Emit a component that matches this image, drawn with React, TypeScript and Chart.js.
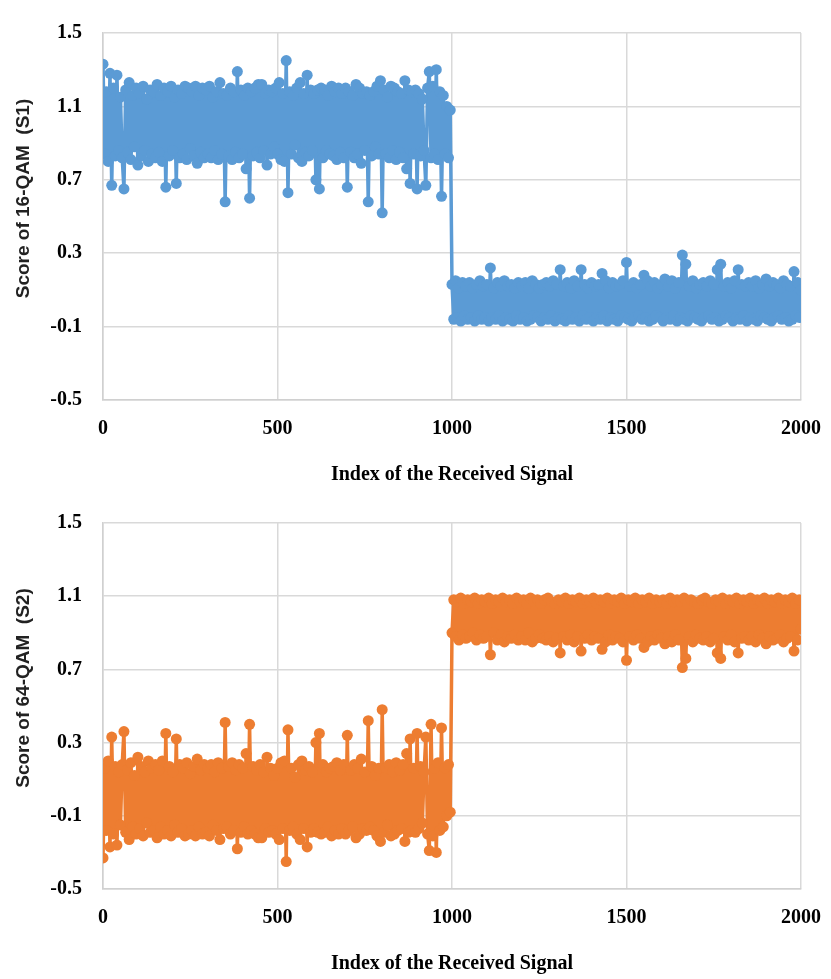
import React, { useEffect, useRef } from "react";
import { Chart, registerables } from "chart.js";

Chart.register(...registerables);

// Sample index of every plotted value (0 .. 2000, one value per 5 received signals)
const STEP = 5;
const signalIndex: number[] = Array.from({ length: 401 }, (_, i) => i * STEP);

const xTicks = [0, 500, 1000, 1500, 2000];
const yTicks = [-0.5, -0.1, 0.3, 0.7, 1.1, 1.5];

// Score of 16-QAM (S1), indices 0..995
const s1FirstHalf = [
  1.33, 0.84, 1.18, 0.8, 1.28, 0.67, 1.2, 0.83, 1.27, 0.86,
  1.15, 0.82, 0.65, 1.19, 0.85, 1.23, 0.81, 1.16, 0.88, 1.2,
  0.78, 1.17, 0.83, 1.21, 0.86, 1.14, 0.8, 1.19, 0.84, 1.18,
  0.82, 1.22, 0.85, 1.16, 0.8, 1.2, 0.66, 1.18, 0.83, 1.21,
  0.86, 1.15, 0.68, 1.19, 0.82, 1.17, 0.84, 1.21, 0.81, 1.2,
  0.87, 1.18, 0.83, 1.21, 0.79, 1.16, 0.85, 1.2, 0.82, 1.19,
  0.84, 1.21, 0.82, 1.15, 0.86, 1.18, 0.81, 1.23, 0.84, 1.17,
  0.58, 1.16, 0.83, 1.2, 0.81, 1.18, 0.85, 1.29, 0.82, 1.19,
  0.84, 1.16, 0.76, 1.2, 0.6, 1.18, 0.83, 1.2, 0.85, 1.22,
  0.82, 1.22, 0.86, 1.17, 0.78, 1.19, 0.84, 1.18, 0.88, 1.2,
  0.84, 1.23, 0.81, 1.17, 0.8, 1.35, 0.63, 1.18, 0.84, 1.16,
  0.89, 1.2, 0.82, 1.23, 0.8, 1.17, 0.85, 1.27, 0.83, 1.19,
  0.86, 1.17, 0.7, 1.19, 0.65, 1.2, 0.82, 1.19, 0.86, 1.16,
  0.84, 1.21, 0.83, 1.18, 0.81, 1.2, 0.85, 1.17, 0.82, 1.2,
  0.66, 1.18, 0.85, 1.16, 0.82, 1.22, 0.84, 1.2, 0.79, 1.17,
  0.86, 1.18, 0.58, 1.16, 0.83, 1.18, 0.88, 1.21, 0.84, 1.24,
  0.52, 1.19, 0.84, 1.15, 0.82, 1.21, 0.86, 1.2, 0.81, 1.18,
  0.85, 1.17, 0.82, 1.24, 0.76, 1.19, 0.68, 1.18, 0.84, 1.19,
  0.65, 1.17, 0.83, 1.14, 0.86, 0.67, 1.2, 1.29, 0.82, 1.21,
  0.84, 1.3, 0.81, 1.18, 0.61, 1.16, 0.84, 1.1, 0.82, 1.08,
];
// Score of 16-QAM (S1), indices 1000..2000
const s1SecondHalf = [
  0.13, -0.06, 0.15, -0.05, 0.11, -0.07, 0.14, -0.04, 0.12, -0.06,
  0.14, -0.05, 0.11, -0.07, 0.13, -0.04, 0.15, -0.06, 0.12, -0.05,
  0.13, -0.07, 0.22, -0.05, 0.11, -0.06, 0.14, -0.04, 0.12, -0.07,
  0.15, -0.05, 0.12, -0.06, 0.13, -0.07, 0.11, -0.04, 0.14, -0.06,
  0.12, -0.05, 0.14, -0.07, 0.11, -0.06, 0.15, -0.04, 0.13, -0.05,
  0.11, -0.07, 0.13, -0.05, 0.14, -0.06, 0.12, -0.04, 0.15, -0.07,
  0.13, -0.05, 0.21, -0.06, 0.12, -0.07, 0.14, -0.04, 0.11, -0.06,
  0.15, -0.05, 0.12, -0.07, 0.21, -0.04, 0.13, -0.06, 0.11, -0.05,
  0.14, -0.07, 0.12, -0.05, 0.13, -0.06, 0.19, -0.04, 0.15, -0.07,
  0.11, -0.05, 0.14, -0.06, 0.12, -0.07, 0.13, -0.04, 0.15, -0.05,
  0.25, -0.06, 0.12, -0.07, 0.14, -0.05, 0.11, -0.04, 0.13, -0.06,
  0.18, -0.05, 0.15, -0.07, 0.12, -0.06, 0.14, -0.04, 0.11, -0.05,
  0.13, -0.07, 0.16, -0.05, 0.12, -0.06, 0.15, -0.04, 0.11, -0.07,
  0.14, -0.05, 0.29, -0.06, 0.24, -0.07, 0.12, -0.04, 0.15, -0.05,
  0.11, -0.06, 0.13, -0.07, 0.14, -0.05, 0.12, -0.04, 0.15, -0.06,
  0.13, -0.05, 0.21, -0.07, 0.24, -0.06, 0.12, -0.04, 0.14, -0.05,
  0.11, -0.07, 0.15, -0.05, 0.21, -0.06, 0.13, -0.04, 0.12, -0.07,
  0.14, -0.05, 0.12, -0.06, 0.15, -0.07, 0.11, -0.04, 0.13, -0.05,
  0.16, -0.06, 0.12, -0.07, 0.14, -0.05, 0.13, -0.04, 0.11, -0.06,
  0.15, -0.05, 0.13, -0.07, 0.12, -0.06, 0.2, -0.04, 0.14, -0.05,
  0.1,
];

// Score of 64-QAM (S2), indices 0..995
const s2FirstHalf = [
  -0.33, 0.16, -0.18, 0.2, -0.27, 0.33, -0.2, 0.17, -0.26, 0.14,
  -0.15, 0.18, 0.36, -0.19, 0.15, -0.23, 0.19, -0.16, 0.12, -0.2,
  0.22, -0.17, 0.17, -0.21, 0.14, -0.14, 0.2, -0.19, 0.16, -0.18,
  0.18, -0.22, 0.15, -0.16, 0.2, -0.2, 0.35, -0.18, 0.17, -0.21,
  0.14, -0.15, 0.32, -0.19, 0.18, -0.17, 0.16, -0.21, 0.19, -0.2,
  0.13, -0.18, 0.17, -0.21, 0.21, -0.16, 0.15, -0.2, 0.18, -0.19,
  0.16, -0.21, 0.18, -0.15, 0.14, -0.18, 0.19, -0.23, 0.16, -0.17,
  0.41, -0.16, 0.17, -0.2, 0.19, -0.18, 0.15, -0.28, 0.18, -0.19,
  0.16, -0.16, 0.24, -0.2, 0.4, -0.18, 0.17, -0.2, 0.15, -0.22,
  0.18, -0.22, 0.14, -0.17, 0.22, -0.19, 0.16, -0.18, 0.12, -0.2,
  0.16, -0.23, 0.19, -0.17, 0.2, -0.35, 0.37, -0.18, 0.16, -0.16,
  0.11, -0.2, 0.18, -0.23, 0.2, -0.17, 0.15, -0.27, 0.17, -0.19,
  0.14, -0.17, 0.3, -0.19, 0.35, -0.2, 0.18, -0.19, 0.14, -0.16,
  0.16, -0.21, 0.17, -0.18, 0.19, -0.2, 0.15, -0.17, 0.18, -0.2,
  0.34, -0.18, 0.15, -0.16, 0.18, -0.22, 0.16, -0.2, 0.21, -0.17,
  0.14, -0.18, 0.42, -0.16, 0.17, -0.18, 0.12, -0.21, 0.16, -0.24,
  0.48, -0.19, 0.16, -0.15, 0.18, -0.21, 0.14, -0.2, 0.19, -0.18,
  0.15, -0.17, 0.18, -0.24, 0.24, -0.19, 0.32, -0.18, 0.16, -0.19,
  0.35, -0.17, 0.17, -0.14, 0.14, 0.33, -0.2, -0.29, 0.4, -0.21,
  0.16, -0.3, 0.19, -0.18, 0.38, -0.16, 0.16, -0.1, 0.18, -0.08,
];
// Score of 64-QAM (S2), indices 1000..2000
const s2SecondHalf = [
  0.9, 1.08, 0.88, 1.07, 0.86, 1.09, 0.89, 1.06, 0.87, 1.08,
  0.88, 1.07, 0.9, 1.09, 0.86, 1.06, 0.89, 1.08, 0.87, 1.07,
  0.88, 1.09, 0.78, 1.06, 0.9, 1.08, 0.86, 1.07, 0.89, 1.09,
  0.85, 1.07, 0.88, 1.08, 0.87, 1.06, 0.89, 1.09, 0.86, 1.07,
  0.88, 1.08, 0.86, 1.06, 0.9, 1.09, 0.85, 1.07, 0.87, 1.08,
  0.89, 1.06, 0.87, 1.08, 0.86, 1.09, 0.88, 1.07, 0.85, 1.06,
  0.87, 1.08, 0.79, 1.07, 0.88, 1.09, 0.86, 1.06, 0.89, 1.08,
  0.85, 1.07, 0.88, 1.09, 0.8, 1.06, 0.87, 1.08, 0.89, 1.07,
  0.86, 1.09, 0.88, 1.06, 0.87, 1.08, 0.81, 1.07, 0.85, 1.09,
  0.89, 1.06, 0.86, 1.08, 0.88, 1.07, 0.87, 1.09, 0.85, 1.06,
  0.75, 1.08, 0.88, 1.07, 0.86, 1.09, 0.89, 1.06, 0.87, 1.08,
  0.82, 1.07, 0.85, 1.09, 0.88, 1.06, 0.86, 1.08, 0.89, 1.07,
  0.87, 1.08, 0.84, 1.06, 0.88, 1.09, 0.85, 1.07, 0.89, 1.08,
  0.86, 1.07, 0.71, 1.09, 0.76, 1.06, 0.88, 1.08, 0.85, 1.07,
  0.89, 1.06, 0.87, 1.08, 0.86, 1.09, 0.88, 1.07, 0.85, 1.06,
  0.87, 1.08, 0.79, 1.07, 0.76, 1.09, 0.88, 1.06, 0.86, 1.08,
  0.89, 1.07, 0.85, 1.09, 0.79, 1.06, 0.87, 1.08, 0.88, 1.07,
  0.86, 1.09, 0.88, 1.06, 0.85, 1.08, 0.89, 1.07, 0.87, 1.09,
  0.84, 1.06, 0.88, 1.08, 0.86, 1.07, 0.87, 1.09, 0.89, 1.06,
  0.85, 1.08, 0.87, 1.07, 0.88, 1.09, 0.8, 1.06, 0.86, 1.08,
  0.92,
];

const s1Values = [...s1FirstHalf, ...s1SecondHalf];
const s2Values = [...s2FirstHalf, ...s2SecondHalf];

const xTitle = "Index of the Received Signal";

type PanelProps = {
  values: number[];
  color: string;
  yTitle: string;
  height: number;
  topPad: number;
};

const yTitlePlugin = {
  id: "yTitleText",
  afterDraw(chart: any, _args: any, opts: any) {
    const ctx = chart.ctx;
    const area = chart.chartArea;
    ctx.save();
    ctx.font = "bold 19px 'Liberation Sans', Arial, sans-serif";
    ctx.fillStyle = "#222";
    ctx.textAlign = "center";
    ctx.textBaseline = "middle";
    ctx.translate(opts.x, (area.top + area.bottom) / 2 + opts.shift);
    ctx.rotate(-Math.PI / 2);
    ctx.fillText(opts.text, 0, 0);
    ctx.restore();
  },
};

const serifFont = "'Liberation Serif', 'Times New Roman', serif";

function Panel({ values, color, yTitle, height, topPad }: PanelProps) {
  const ref = useRef<HTMLCanvasElement>(null);
  useEffect(() => {
    if (!ref.current) return;
    const data = signalIndex.map((x, i) => ({ x, y: values[i] }));
    const chart = new Chart(ref.current, {
      type: "line",
      data: {
        datasets: [
          {
            data,
            borderColor: color,
            backgroundColor: color,
            borderWidth: 3.5,
            pointRadius: 5.5,
            pointBorderWidth: 0,
            pointBackgroundColor: color,
            tension: 0,
          },
        ],
      },
      plugins: [yTitlePlugin],
      options: {
        animation: false,
        responsive: false,
        maintainAspectRatio: false,
        events: [],
        layout: { padding: { left: 0, right: 30, top: topPad, bottom: 0 } },
        plugins: {
          legend: { display: false },
          tooltip: { enabled: false },
          yTitleText: { text: yTitle, x: 24, shift: -18 },
        } as any,
        scales: {
          x: {
            type: "linear",
            min: xTicks[0],
            max: xTicks[xTicks.length - 1],
            afterBuildTicks: (s: any) => {
              s.ticks = xTicks.map((v) => ({ value: v }));
            },
            afterFit: (s: any) => {
              s.height = 90;
              s.paddingLeft = 0;
              s.paddingRight = 0;
            },
            grid: { color: "#d9d9d9", lineWidth: 1.5, drawTicks: false },
            border: { color: "#d0d0d0", width: 1.5 },
            ticks: {
              padding: 17,
              color: "#000",
              font: { family: serifFont, weight: "bold", size: 20 },
              maxRotation: 0,
              callback: (v: any) => String(v),
            },
            title: {
              display: true,
              text: xTitle,
              color: "#000",
              padding: { top: 0, bottom: 3 },
              font: { family: serifFont, weight: "bold", size: 20 },
            },
          },
          y: {
            type: "linear",
            min: yTicks[0],
            max: yTicks[yTicks.length - 1],
            afterBuildTicks: (s: any) => {
              s.ticks = yTicks.map((v) => ({ value: v }));
            },
            afterFit: (s: any) => {
              s.width = 103;
            },
            grid: { color: "#d9d9d9", lineWidth: 1.5, drawTicks: false },
            border: { color: "#d0d0d0", width: 1.5 },
            ticks: {
              padding: 21,
              color: "#000",
              font: { family: serifFont, weight: "bold", size: 20 },
              callback: (v: any) => Number(v).toFixed(1),
            },
          },
        },
      },
    });
    return () => chart.destroy();
  }, [values, color, yTitle, topPad]);
  return (
    <canvas ref={ref} width={831} height={height} style={{ display: "block", width: 831, height }} />
  );
}

export default function App() {
  useEffect(() => {
    document.body.style.margin = "0";
  }, []);
  return (
    <div style={{ width: 831, height: 979, background: "#fff" }}>
      <Panel values={s1Values} color="#5B9BD5" yTitle="Score of 16-QAM  (S1)" height={490} topPad={19} />
      <Panel values={s2Values} color="#ED7D31" yTitle="Score of 64-QAM  (S2)" height={489} topPad={18} />
    </div>
  );
}
